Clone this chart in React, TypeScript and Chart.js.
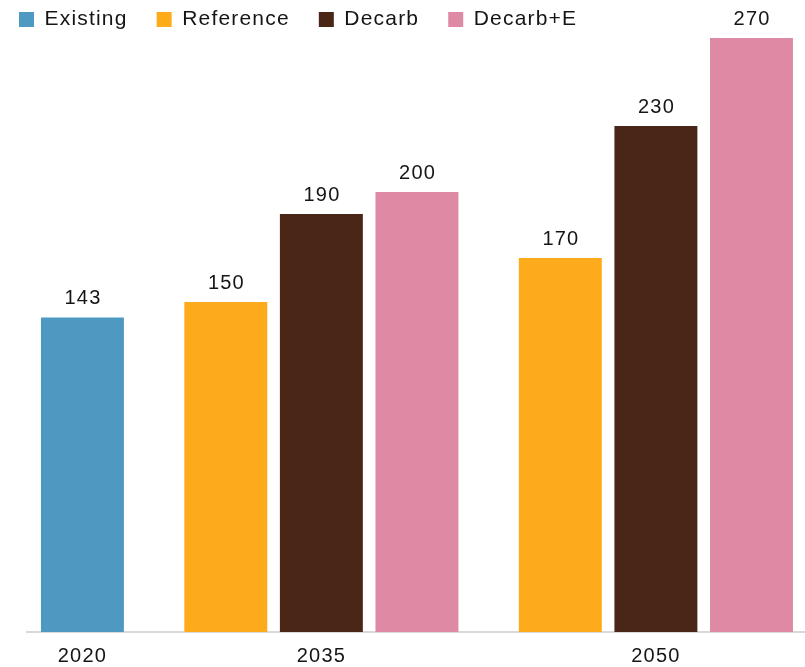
import React, { useEffect, useRef } from 'react';
import { Chart, registerables } from 'chart.js';

Chart.register(...registerables);

// ---- data ----
const years = ['2020', '2035', '2050'];
const seriesNames = ['Existing', 'Reference', 'Decarb', 'Decarb+E'];
const existing: (number | null)[] = [143, null, null];
const reference: (number | null)[] = [null, 150, 170];
const decarb: (number | null)[] = [null, 190, 230];
const decarbE: (number | null)[] = [null, 200, 270];
const seriesColors = ['#4E99C2', '#FDAA1B', '#4A2616', '#DE8AA5'];

const FONT_FAMILY = '"Liberation Sans", Arial, sans-serif';
const FONT_SIZE = 21;
const TEXT_COLOR = '#151515';
const SPACING = '1.2px';

export default function App() {
  const canvasRef = useRef<HTMLCanvasElement>(null);

  useEffect(() => {
    const series = [existing, reference, decarb, decarbE];
    // slot layout: consecutive bars inside a year group, half-slot gap between groups
    const positions: (number | null)[][] = series.map(() => []);
    const centers: number[] = [];
    let cursor = 0;
    years.forEach((_, yi) => {
      const slots: number[] = [];
      series.forEach((s, si) => {
        if (s[yi] != null) {
          positions[si][yi] = cursor;
          slots.push(cursor);
          cursor += 1;
        } else {
          positions[si][yi] = null;
        }
      });
      centers.push((slots[0] + slots[slots.length - 1]) / 2);
      cursor += 0.5;
    });
    const lastSlot = cursor - 1.5;

    const datasets = series.map((s, si) => ({
      label: seriesNames[si],
      data: s
        .map((v, yi) => (v == null ? null : { x: positions[si][yi] as number, y: v }))
        .filter((d) => d !== null),
      backgroundColor: seriesColors[si],
      borderWidth: 0,
      grouped: false,
      categoryPercentage: 1,
      barPercentage: 0.868,
    }));

    const spacingPlugin = {
      id: 'letterSpacing',
      beforeUpdate(chart: any) {
        chart.ctx.letterSpacing = SPACING;
      },
      afterLayout(chart: any) {
        if (chart.legend) {
          chart.legend.top += 2;
          chart.legend.bottom += 2;
        }
      },
      beforeDraw(chart: any) {
        chart.ctx.letterSpacing = SPACING;
      },
    };

    const labelPlugin = {
      id: 'barValueLabels',
      afterDatasetsDraw(chart: any) {
        const ctx = chart.ctx;
        ctx.save();
        ctx.font = `${FONT_SIZE - 1}px ${FONT_FAMILY}`;
        ctx.fillStyle = TEXT_COLOR;
        ctx.textAlign = 'center';
        ctx.textBaseline = 'alphabetic';
        ctx.letterSpacing = SPACING;
        chart.data.datasets.forEach((ds: any, i: number) => {
          const meta = chart.getDatasetMeta(i);
          meta.data.forEach((el: any, j: number) => {
            const raw = ds.data[j];
            if (!raw) return;
            ctx.fillText(String(raw.y), el.x + 0.6, el.y - 13);
          });
        });
        ctx.restore();
      },
    };

    const chart = new Chart(canvasRef.current as HTMLCanvasElement, {
      type: 'bar',
      data: { datasets: datasets as any },
      plugins: [spacingPlugin, labelPlugin],
      options: {
        animation: false,
        responsive: true,
        maintainAspectRatio: false,
        layout: { padding: 0 },
        plugins: {
          legend: {
            display: true,
            position: 'top',
            align: 'start',
            labels: {
              boxWidth: 15,
              boxHeight: 15,
              padding: 29,
              color: TEXT_COLOR,
              font: { family: FONT_FAMILY, size: FONT_SIZE },
            },
          },
          tooltip: { enabled: false },
        },
        scales: {
          x: {
            type: 'linear',
            offset: false,
            min: -0.58,
            max: lastSlot + 0.56,
            grid: { display: false, drawTicks: false, offset: false },
            border: { display: true, color: '#d9d9d9', width: 2 },
            afterBuildTicks: (scale: any) => {
              scale.ticks = centers.map((v) => ({ value: v }));
            },
            afterFit: (scale: any) => {
              scale.height = 35;
            },
            ticks: {
              autoSkip: false,
              maxRotation: 0,
              padding: 12,
              color: TEXT_COLOR,
              font: { family: FONT_FAMILY, size: FONT_SIZE - 1 },
              callback: (_v: any, index: number) => years[index],
            },
          },
          y: {
            min: 0,
            max: 270,
            grid: { display: false, drawTicks: false },
            border: { display: false },
            ticks: { display: false },
            afterFit: (scale: any) => {
              scale.width = 37;
            },
          },
        },
      } as any,
    });

    return () => chart.destroy();
  }, []);

  return (
    <div style={{ position: 'absolute', left: -10, top: -22, width: 815, height: 689 }}>
      <canvas ref={canvasRef} />
    </div>
  );
}
